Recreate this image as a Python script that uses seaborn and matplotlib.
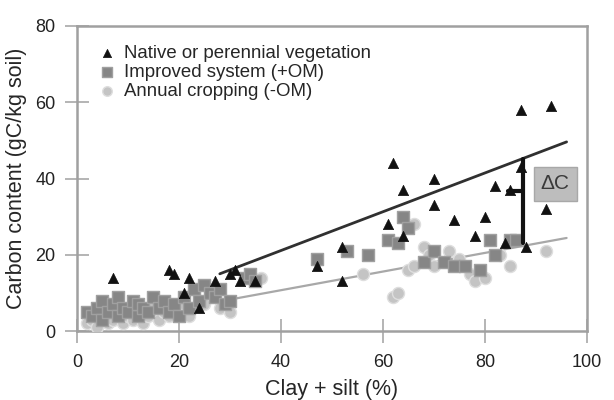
import seaborn as sns
import matplotlib.pyplot as plt
import pandas as pd

# native or perennial vegetation (black triangles)
native_x = [7, 18, 19, 21, 22, 24, 27, 30, 31, 32, 35, 47, 52, 52, 61, 62, 64, 64,
            70, 70, 74, 78, 80, 82, 84, 85, 87, 87, 88, 92, 93]
native_y = [14, 16, 15, 10, 14, 6, 13, 15, 16, 13, 13, 17, 22, 13, 28, 44, 25, 37,
            40, 33, 29, 25, 30, 38, 23, 37, 58, 43, 22, 32, 59]

# improved system (+OM) (grey squares)
improved_x = [2, 3, 4, 5, 5, 6, 7, 8, 8, 9, 10, 11, 12, 12, 13, 14, 15, 16, 17, 18,
              19, 20, 21, 22, 23, 24, 25, 26, 27, 28, 29, 30, 33, 34, 35, 47, 53,
              57, 61, 63, 64, 65, 68, 70, 72, 74, 76, 79, 81, 82, 85, 86]
improved_y = [5, 4, 6, 3, 8, 5, 7, 4, 9, 6, 5, 8, 4, 7, 6, 5, 9, 6, 8, 5,
              7, 4, 9, 6, 11, 8, 12, 10, 9, 11, 7, 8, 14, 15, 13, 19, 21,
              20, 24, 23, 30, 27, 18, 21, 18, 17, 17, 16, 24, 20, 24, 24]

# annual cropping (-OM) (light grey circles)
annual_x = [2, 3, 4, 5, 6, 7, 8, 9, 10, 11, 12, 13, 14, 15, 16, 17, 18, 19, 20,
            21, 22, 25, 28, 30, 36, 56, 62, 63, 65, 66, 66, 68, 69, 70, 73, 75,
            77, 78, 80, 83, 85, 92]
annual_y = [2, 3, 1, 4, 2, 3, 5, 2, 4, 3, 5, 2, 4, 6, 3, 5, 4, 6, 5,
            7, 4, 7, 6, 5, 14, 15, 9, 10, 16, 17, 28, 22, 20, 17, 21, 19,
            15, 13, 14, 20, 17, 21]

# trend lines (end points)
native_line_x = [28, 96]
native_line_y = [15, 49.6]
annual_line_x = [31, 96]
annual_line_y = [8.5, 24.4]

# delta C arrow
delta_x = 87.5
delta_y = [23, 45]

df_n = pd.DataFrame({'x': native_x, 'y': native_y})
df_i = pd.DataFrame({'x': improved_x, 'y': improved_y})
df_a = pd.DataFrame({'x': annual_x, 'y': annual_y})

sns.set_style('white')
plt.rcParams['font.family'] = ['Liberation Sans', 'DejaVu Sans']

fig = plt.figure(figsize=(6.14, 4.0), dpi=100)
ax = fig.add_axes([0.1254, 0.1725, 0.8306, 0.7625])

sns.lineplot(x=annual_line_x, y=annual_line_y, color='#a8a8a8', lw=1.6, ax=ax)
sns.lineplot(x=native_line_x, y=native_line_y, color='#303030', lw=2, ax=ax)

sns.scatterplot(data=df_a, x='x', y='y', marker='o', s=75, color='#c4c4c4',
                edgecolor='#dedede', linewidth=1, ax=ax,
                label='Annual cropping (-OM)', zorder=3)
sns.scatterplot(data=df_i, x='x', y='y', marker='s', s=70, color='#868686',
                edgecolor='#a0a0a0', linewidth=1, ax=ax,
                label='Improved system (+OM)', zorder=4)
sns.scatterplot(data=df_n, x='x', y='y', marker='^', s=55, color='#111111',
                edgecolor='#111111', linewidth=0.5, ax=ax,
                label='Native or perennial vegetation', zorder=5)

# delta C
ax.plot([delta_x, delta_x], delta_y, color='#111111', lw=3, zorder=6)
ax.plot([delta_x - 3, delta_x], [36.7, 36.7], color='#111111', lw=3, zorder=6)
ax.text(93.8, 38.6, 'ΔC', ha='center', va='center', fontsize=15, color='#3a3a3a',
        bbox=dict(boxstyle='square,pad=0.35', fc='#bdbdbd', ec='#a8a8a8'))

ax.set_xlim(0, 100)
ax.set_ylim(0, 80)
ax.set_xticks([0, 20, 40, 60, 80, 100])
ax.set_yticks([0, 20, 40, 60, 80])
ax.tick_params(axis='both', labelsize=13, labelcolor='#222222', color='#a8a8a8',
               length=17, width=1.2, direction='inout', bottom=True, left=True)
ax.tick_params(axis='x', pad=8)
ax.tick_params(axis='y', pad=7)
for sp in ax.spines.values():
    sp.set_color('#a0a0a0')
    sp.set_linewidth(1.8)

ax.set_xlabel('Clay + silt (%)', fontsize=15.5, labelpad=6)
ax.set_ylabel('Carbon content (gC/kg soil)', fontsize=15.5, labelpad=6)

h, l = ax.get_legend_handles_labels()
order = [2, 1, 0]
ax.legend([h[i] for i in order], [l[i] for i in order], loc='upper left',
          frameon=False, fontsize=13.4, handletextpad=0.3, labelspacing=0.12,
          borderaxespad=0.6, markerscale=0.8, handlelength=1.2)

fig.savefig('out.png', dpi=100)
